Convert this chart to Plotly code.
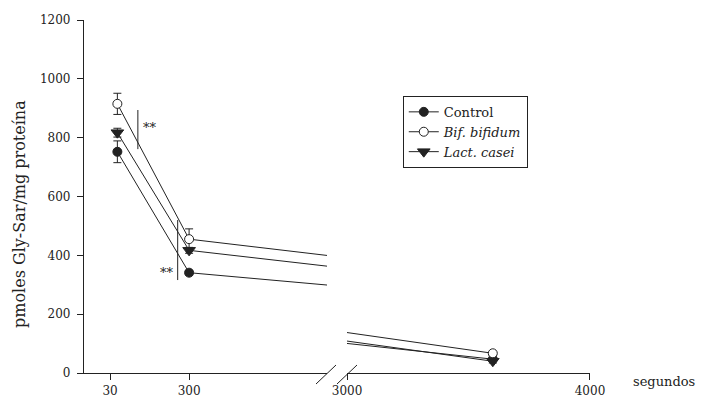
import plotly.graph_objects as go

# ---- data ----
times = [55, 300, 3600]               # seconds
control = [752, 341, 47]
control_err = [37, 8, 6]
bifidum = [915, 455, 67]
bifidum_err = [36, 35, 6]
casei = [817, 417, 40]
casei_err = [15, 10, 6]

left_ticks = [30, 300]
right_ticks = [3000, 4000]

FONT = "DejaVu Serif"
INK = "#222222"

series = [
    ("Control", control, control_err, dict(symbol="circle", size=9, color=INK, line=dict(color=INK, width=1))),
    ("<i>Bif. bifidum</i>", bifidum, bifidum_err, dict(symbol="circle", size=9, color="white", line=dict(color=INK, width=1))),
    ("<i>Lact. casei</i>", casei, casei_err, dict(symbol="triangle-down", size=11, color=INK, line=dict(color=INK, width=1))),
]

fig = go.Figure()
for name, vals, err, mk in series:
    for xa, show in (("x", True), ("x2", False)):
        fig.add_trace(go.Scatter(
            x=times, y=vals, name=name, mode="lines+markers",
            xaxis=xa, yaxis="y", showlegend=show,
            line=dict(color=INK, width=1),
            marker=mk,
            error_y=dict(type="data", array=err, color=INK, thickness=1, width=4),
        ))

axis_common = dict(
    showline=True, linecolor=INK, linewidth=1.2, ticks="outside", ticklen=6,
    tickcolor=INK, tickwidth=1.2, showgrid=False, zeroline=False,
    tickfont=dict(family=FONT, size=12, color=INK),
)

fig.update_layout(
    width=707, height=407,
    margin=dict(l=76, r=125, t=12, b=42, autoexpand=False),
    paper_bgcolor="white", plot_bgcolor="white",
    font=dict(family=FONT, color=INK),
    xaxis=dict(domain=[0, 0.4802], range=[-59, 771], tickvals=left_ticks,
               anchor="y", automargin=False, **axis_common),
    xaxis2=dict(domain=[0.5198, 1], range=[3000, 4000], tickvals=right_ticks,
                anchor="y", automargin=False, **axis_common),
    yaxis=dict(range=[0, 1200], dtick=200, anchor="x", automargin=False,
               ticklabelstandoff=4, **axis_common),
    legend=dict(x=0.63, y=0.785, xanchor="left", yanchor="top",
                bordercolor=INK, borderwidth=1, bgcolor="white",
                font=dict(family=FONT, size=13, color=INK),
                tracegroupgap=0),
    showlegend=True,
)

# axis break marks
for x0p, x1p in ((316, 336), (337, 357)):
    fig.add_shape(type="line", xref="paper", yref="paper",
                  x0=(x0p - 84) / 506, y0=(373 - 384) / 353,
                  x1=(x1p - 84) / 506, y1=(373 - 365) / 353,
                  line=dict(color=INK, width=1))

# significance bars
fig.add_shape(type="line", xref="x", yref="y", x0=125, x1=125, y0=761, y1=894,
              line=dict(color=INK, width=1))
fig.add_shape(type="line", xref="x", yref="y", x0=261, x1=261, y0=316, y1=520,
              line=dict(color=INK, width=1))
fig.add_annotation(xref="x", yref="y", x=167, y=836, text="**", showarrow=False,
                   font=dict(family=FONT, size=13, color=INK))
fig.add_annotation(xref="x", yref="y", x=225, y=343, text="**", showarrow=False,
                   font=dict(family=FONT, size=13, color=INK))

# axis titles
fig.add_annotation(xref="paper", yref="paper", x=(20 - 84) / 506, y=(373 - 214) / 353,
                   xanchor="center", yanchor="middle",
                   text="pmoles Gly-Sar/mg proteína", textangle=-90, showarrow=False,
                   font=dict(family=FONT, size=16, color=INK))
fig.add_annotation(xref="paper", yref="paper", x=(664 - 84) / 506, y=(373 - 382) / 353,
                   xanchor="center", yanchor="middle",
                   text="segundos", showarrow=False,
                   font=dict(family=FONT, size=13, color=INK))

fig.write_html("out.html")
